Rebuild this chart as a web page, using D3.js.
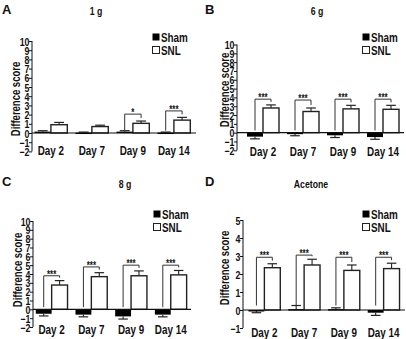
<!DOCTYPE html>
<meta charset="utf-8">
<style>
body { margin: 0; background: #fff; }
text { font-family: "Liberation Sans", Arial, sans-serif; font-weight: bold; fill: #111; }
.axis path, .axis line { stroke: #111; stroke-width: 1px; }
</style>
<svg width="406" height="339"></svg>
<script src="https://d3js.org/d3.v7.min.js"></script>
<script>

var days = ["Day 2", "Day 7", "Day 9", "Day 14"];

// panel A, 1 g
var shamA = [0.15, 0.05, 0.15, 0.05],
    shamErrA = [0.1, 0.05, 0.1, 0.05],
    snlA = [0.9, 0.7, 1.05, 1.4],
    snlErrA = [0.25, 0.15, 0.25, 0.3],
    sigA = ["", "", "*", "***"],
    bracketA = [null, null, 2.05, 2.4];

// panel B, 6 g
var shamB = [-0.45, -0.1, -0.3, -0.5],
    shamErrB = [0.25, 0.25, 0.25, 0.25],
    snlB = [2.8, 2.4, 2.7, 2.65],
    snlErrB = [0.35, 0.4, 0.4, 0.45],
    sigB = ["***", "***", "***", "***"],
    bracketB = [3.8, 3.7, 3.8, 3.8];

// panel C, 8 g
var shamC = [-0.5, -0.6, -0.8, -0.6],
    shamErrC = [0.25, 0.25, 0.3, 0.25],
    snlC = [2.75, 3.7, 3.8, 3.9],
    snlErrC = [0.5, 0.45, 0.55, 0.5],
    sigC = ["***", "***", "***", "***"],
    bracketC = [3.8, 4.8, 5.0, 5.0];

// panel D, acetone
var shamD = [-0.05, 0.05, 0.05, -0.15],
    shamErrD = [0.1, 0.2, 0.07, 0.15],
    snlD = [2.35, 2.5, 2.2, 2.3],
    snlErrD = [0.22, 0.32, 0.3, 0.3],
    sigD = ["***", "***", "***", "***"],
    bracketD = [2.93, 3.05, 2.93, 2.93];

var ticks10 = [-2, -1, 0, 1, 2, 3, 4, 5, 6, 7, 8, 9, 10],
    ticks5 = [-1, 0, 1, 2, 3, 4, 5];

var panels = [
  {letter: "A", title: "1 g", lx: 2, ly: 14, tx: 96, ty: 15,
   axisX: 32, xEnd: 196, band: [30.4, 194.4], y: [151.4, 41], dom: [-2, 10], ticks: ticks10,
   labelX: 20, labelY: 99, dayY: 155, legX: 152, legY: 33,
   sham: shamA, shamErr: shamErrA, snl: snlA, snlErr: snlErrA, sig: sigA, br: bracketA},
  {letter: "B", title: "6 g", lx: 205, ly: 14, tx: 317, ty: 15,
   axisX: 237, xEnd: 404, band: [243, 403], y: [150.3, 44.5], dom: [-2, 10], ticks: ticks10,
   labelX: 228.5, labelY: 90, dayY: 156, legX: 362, legY: 33,
   sham: shamB, shamErr: shamErrB, snl: snlB, snlErr: snlErrB, sig: sigB, br: bracketB},
  {letter: "C", title: "8 g", lx: 2, ly: 186, tx: 125, ty: 188,
   axisX: 33, xEnd: 191, band: [31.8, 190.6], y: [327, 221], dom: [-2, 10], ticks: ticks10,
   labelX: 21.5, labelY: 270, dayY: 334, legX: 153, legY: 210,
   sham: shamC, shamErr: shamErrC, snl: snlC, snlErr: snlErrC, sig: sigC, br: bracketC},
  {letter: "D", title: "Acetone", lx: 205, ly: 186, tx: 311, ty: 188,
   axisX: 243, xEnd: 405, band: [244.5, 403.5], y: [328, 220], dom: [-1, 5], ticks: ticks5,
   labelX: 229, labelY: 268, dayY: 337, legX: 362, legY: 210,
   sham: shamD, shamErr: shamErrD, snl: snlD, snlErr: snlErrD, sig: sigD, br: bracketD}
];

var svg = d3.select("svg");

// text in the figure is a condensed face; squeeze it horizontally
var squeeze = 0.76;
function label(g, x, y, txt, size, anchor, rot) {
  return g.append("text")
      .attr("transform", "translate(" + x + "," + y + ")" + (rot ? " rotate(" + rot + ")" : "") + " scale(" + squeeze + ",1)")
      .attr("text-anchor", anchor || "start")
      .style("font-size", size + "px")
      .text(txt);
}

panels.forEach(function(p) {
  var g = svg.append("g");

  var x = d3.scaleBand().domain(days).range(p.band).paddingInner(0.2).paddingOuter(0.1);
  var y = d3.scaleLinear().domain(p.dom).range(p.y);
  var bw = x.bandwidth() / 2;

  g.append("text").attr("x", p.lx).attr("y", p.ly).style("font-size", "13px").text(p.letter);
  label(g, p.tx, p.ty, p.title, 11.5, "middle");

  // y axis
  g.append("g").attr("class", "axis")
      .attr("transform", "translate(" + p.axisX + ",0)")
      .call(d3.axisLeft(y).tickValues(p.ticks).tickSize(3).tickSizeOuter(0).tickFormat(d3.format("d")))
      .call(function(a) {
        a.select(".domain").attr("d", "M0," + y(p.dom[0]) + "V" + y(p.dom[1]));
        a.selectAll("text").attr("x", null).attr("dy", null)
          .attr("transform", "translate(-2.5,4) scale(0.8,1)")
          .style("font-size", "11px").style("font-family", null).attr("fill", "#111");
      });

  label(g, p.labelX, p.labelY, "Difference score", 12.5, "middle", -90);

  var rows = days.map(function(d, i) {
    return {day: d, sham: p.sham[i], shamErr: p.shamErr[i], snl: p.snl[i], snlErr: p.snlErr[i], sig: p.sig[i], br: p.br[i]};
  });

  // error bars (drawn first so bars cover the stem)
  function errBar(cx, v, e) {
    var tip = v >= 0 ? v + e : v - e;
    g.append("line").attr("x1", cx).attr("x2", cx).attr("y1", y(v)).attr("y2", y(tip))
        .attr("stroke", "#222").attr("stroke-width", 1.1);
    g.append("line").attr("x1", cx - bw * 0.3).attr("x2", cx + bw * 0.3).attr("y1", y(tip)).attr("y2", y(tip))
        .attr("stroke", "#222").attr("stroke-width", 1.2);
  }
  rows.forEach(function(r) {
    errBar(x(r.day) + bw / 2, r.sham, r.shamErr);
    errBar(x(r.day) + bw * 1.5, r.snl, r.snlErr);
  });

  g.selectAll(".sham").data(rows).enter().append("rect")
      .attr("x", function(d) { return x(d.day); })
      .attr("width", bw)
      .attr("y", function(d) { return y(Math.max(0, d.sham)); })
      .attr("height", function(d) { return Math.max(1.5, Math.abs(y(d.sham) - y(0))); })
      .attr("fill", "#000");

  g.selectAll(".snl").data(rows).enter().append("rect")
      .attr("x", function(d) { return x(d.day) + bw; })
      .attr("width", bw)
      .attr("y", function(d) { return y(d.snl); })
      .attr("height", function(d) { return y(0) - y(d.snl); })
      .attr("fill", "#fff").attr("stroke", "#222").attr("stroke-width", 1.4);

  // x axis baseline
  g.append("line").attr("x1", p.axisX).attr("x2", p.xEnd).attr("y1", y(0)).attr("y2", y(0))
      .attr("stroke", "#111").attr("stroke-width", 1.2);

  // significance brackets
  rows.filter(function(r) { return r.br != null; }).forEach(function(r) {
    var x1 = x(r.day) + bw / 2, x2 = x(r.day) + bw * 1.5;
    var lb = y(Math.max(r.sham + r.shamErr, 0.25));
    var rb = y(r.snl + r.snlErr) - 3;
    g.append("path")
        .attr("d", "M" + x1 + "," + lb + "V" + y(r.br) + "H" + x2 + "V" + rb)
        .attr("fill", "none").attr("stroke", "#333").attr("stroke-width", 1);
    label(g, (x1 + x2) / 2, y(r.br) + 2, r.sig, 10.5, "middle");
  });

  // day labels
  days.forEach(function(d) {
    label(g, x(d) + x.bandwidth() / 2, p.dayY, d, 13, "middle");
  });

  // legend
  var leg = g.append("g").attr("transform", "translate(" + p.legX + "," + p.legY + ")");
  leg.append("rect").attr("x", 0.5).attr("y", 0.5).attr("width", 7).attr("height", 7).attr("fill", "#000");
  leg.append("rect").attr("x", 0.5).attr("y", 13.5).attr("width", 7).attr("height", 7)
      .attr("fill", "#fff").attr("stroke", "#222").attr("stroke-width", 1);
  label(leg, 9, 8.5, "Sham", 13);
  label(leg, 9, 21.5, "SNL", 13);
});

</script>
